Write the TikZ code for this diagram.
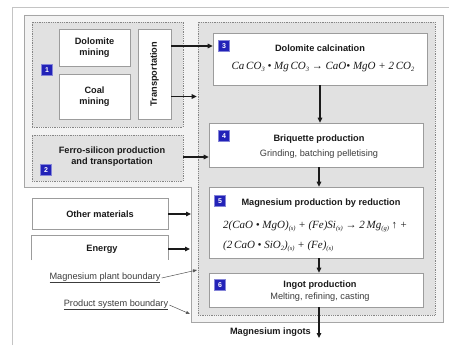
\documentclass[tikz,border=0pt]{standalone}
\usepackage{fontspec}
\setmainfont{Liberation Sans}
\newfontfamily\eqfont{Liberation Serif}
\usetikzlibrary{arrows.meta}

\definecolor{tagblue}{HTML}{2222B8}
\definecolor{pageline}{HTML}{C4C4C4}
\definecolor{psfill}{HTML}{F2F2F2}
\definecolor{psline}{HTML}{A6A6A6}
\definecolor{plantfill}{HTML}{E1E1E1}
\definecolor{dotline}{HTML}{858585}
\definecolor{boxline}{HTML}{9C9C9C}
\definecolor{ink}{HTML}{1A1A1A}

% small lowered index for the chemical equations
\newcommand\chemidx[1]{\raisebox{-0.35ex}{\fontsize{6.5}{7}\selectfont #1}}
\newcommand\eqtext[1]{{\eqfont\itshape\fontsize{11}{13}\selectfont #1}}

\tikzset{
  dotbox/.style={draw=dotline, densely dotted, line width=0.8pt, fill=plantfill, inner sep=0pt},
  whitebox/.style={draw=boxline, fill=white, line width=0.7pt, inner sep=0pt},
  tagbox/.style={fill=tagblue, draw=tagblue!55, line width=0.4pt, minimum size=11pt, inner sep=0pt,
    text=white, font=\fontsize{7}{8}\selectfont\bfseries},
  bold/.style={text=ink, font=\fontsize{9.2}{11}\selectfont\bfseries, align=center, inner sep=0pt},
  plain/.style={text=ink!85, font=\fontsize{9.2}{11}\selectfont, align=center, inner sep=0pt},
  flow/.style={draw=ink, -{Triangle[length=5pt,width=4.6pt]}, line width=1.1pt},
  pointer/.style={draw=ink!75, -{Triangle[length=4pt,width=3pt]}, line width=0.5pt},
  boundlabel/.style={text=ink!85, font=\fontsize{9.2}{11}\selectfont, inner sep=0pt},
}

\begin{document}
\begin{tikzpicture}[x=1pt, y=-1pt]
\useasboundingbox (0,0) rectangle (449,345);

% page edge
\draw[pageline, line width=0.8pt] (12,345) -- (12,7) -- (449,7);

% product system boundary
\draw[psline, fill=psfill, line width=0.8pt]
  (24,15) -- (443,15) -- (443,322) -- (191,322) -- (191,187) -- (24,187) -- cycle;
\coordinate (psb) at (191,250);

% dotted sub-boundaries
\node[dotbox, minimum width=151pt, minimum height=105pt] (up1) at (107.5,74.5) {};
\node[dotbox, minimum width=151pt, minimum height=46pt] (up2) at (107.5,158) {};
\node[dotbox, minimum width=237pt, minimum height=293pt] (plant) at (316.5,168.5) {};

% upstream stage 1
\node[whitebox, minimum width=71pt, minimum height=37pt] (dol) at (94.5,47.5) {};
\node[bold] (doltxt) at (dol) {Dolomite\\mining};
\node[whitebox, minimum width=71pt, minimum height=45pt] (coal) at (94.5,96.5) {};
\node[bold] (coaltxt) at (coal) {Coal\\mining};
\node[whitebox, minimum width=33pt, minimum height=90pt] (trans) at (154.5,74) {};
\node[bold, rotate=90] (transtxt) at (trans) {Transportation};
\node[tagbox] (tag1) at (47,70) {1};

% upstream stage 2
\node[bold] (ferro) at (112,157) {Ferro-silicon production\\and transportation};
\node[tagbox] (tag2) at (46,170) {2};

% stage 3
\node[whitebox, minimum width=214pt, minimum height=52pt] (b3) at (320,59) {};
\node[tagbox] (tag3) at (224,46) {3};
\node[bold] (t3) at (320,48) {Dolomite calcination};
\node[inner sep=0pt, text=ink] (e3) at (323,67)
  {\eqtext{Ca\,CO\chemidx{3} \textbullet\ Mg\,CO\chemidx{3} \textrightarrow\ CaO\textbullet\ MgO + 2\,CO\chemidx{2}}};

% stage 4
\node[whitebox, minimum width=214pt, minimum height=44pt] (b4) at (316,145) {};
\node[tagbox] (tag4) at (224,136) {4};
\node[bold] (t4) at (319,139) {Briquette production};
\node[plain] (s4) at (319,154) {Grinding, batching pelletising};

% stage 5
\node[whitebox, minimum width=214pt, minimum height=71pt] (b5) at (316,222.5) {};
\node[tagbox] (tag5) at (220,201) {5};
\node[bold] (t5) at (321,203) {Magnesium production by reduction};
\node[inner sep=0pt, anchor=west, text=ink] (e5a) at (223,226)
  {\eqtext{2(CaO \textbullet\ MgO)\chemidx{(s)} + (Fe)Si\chemidx{(s)} \textrightarrow\ 2\,Mg\chemidx{(g)} \textuparrow\ +}};
\node[inner sep=0pt, anchor=west, text=ink] (e5b) at (223,246)
  {\eqtext{(2\,CaO \textbullet\ SiO\chemidx{2})\chemidx{(s)} + (Fe)\chemidx{(s)}}};

% stage 6
\node[whitebox, minimum width=214pt, minimum height=34pt] (b6) at (316,290) {};
\node[tagbox] (tag6) at (220,285) {6};
\node[bold] (t6) at (320,285.5) {Ingot production};
\node[plain] (s6) at (320,297) {Melting, refining, casting};

% product
\coordinate (outend) at (319,338);
\node[bold, anchor=east] (ingots) at (311,332) {Magnesium ingots};

% other inputs
\node[whitebox, minimum width=136pt, minimum height=31pt] (other) at (100,213.5) {};
\node[bold] (othertxt) at (100,214) {Other materials};
\node[minimum width=136pt, minimum height=24pt, inner sep=0pt] (energy) at (100,248) {};
\fill[white] (energy.south west) rectangle (energy.north east);
\draw[boxline, line width=0.7pt] (energy.south west) -- (energy.north west) -- (energy.north east) -- (energy.south east);
\node[bold] (energytxt) at (102,249) {Energy};

% boundary labels
\node[boundlabel] (mpb) at (105,278) {\underline{Magnesium plant boundary}};
\node[boundlabel] (psbl) at (116,305) {\underline{Product system boundary}};
\coordinate (mpbtip) at (197,270);
\coordinate (psbtip) at (190,314);
\draw[pointer] ([xshift=1pt]mpb.east) -- (mpbtip);
\draw[pointer] ([xshift=1pt]psbl.east) -- (psbtip);

% flows
\draw[flow] (trans.east |- tag3) -- (b3.west |- tag3);
\draw[flow] (trans.east |- coal) -- ([xshift=-1pt]plant.west |- coal);
\draw[flow] (up2.east |- ferro) -- (b4.west |- ferro);
\draw[flow] (b3.south -| t3) -- (b4.north -| t3);
\draw[flow] (b4.south -| t4) -- (b5.north -| t4);
\draw[flow] (b5.south -| t4) -- (b6.north -| t4);
\draw[flow] (b6.south -| t4) -- (outend -| t4);
\draw[flow] (other.east |- othertxt) -- (psb |- othertxt);
\draw[flow] (energy.east |- energytxt) -- ([xshift=-1pt]psb |- energytxt);
\end{tikzpicture}
\end{document}
